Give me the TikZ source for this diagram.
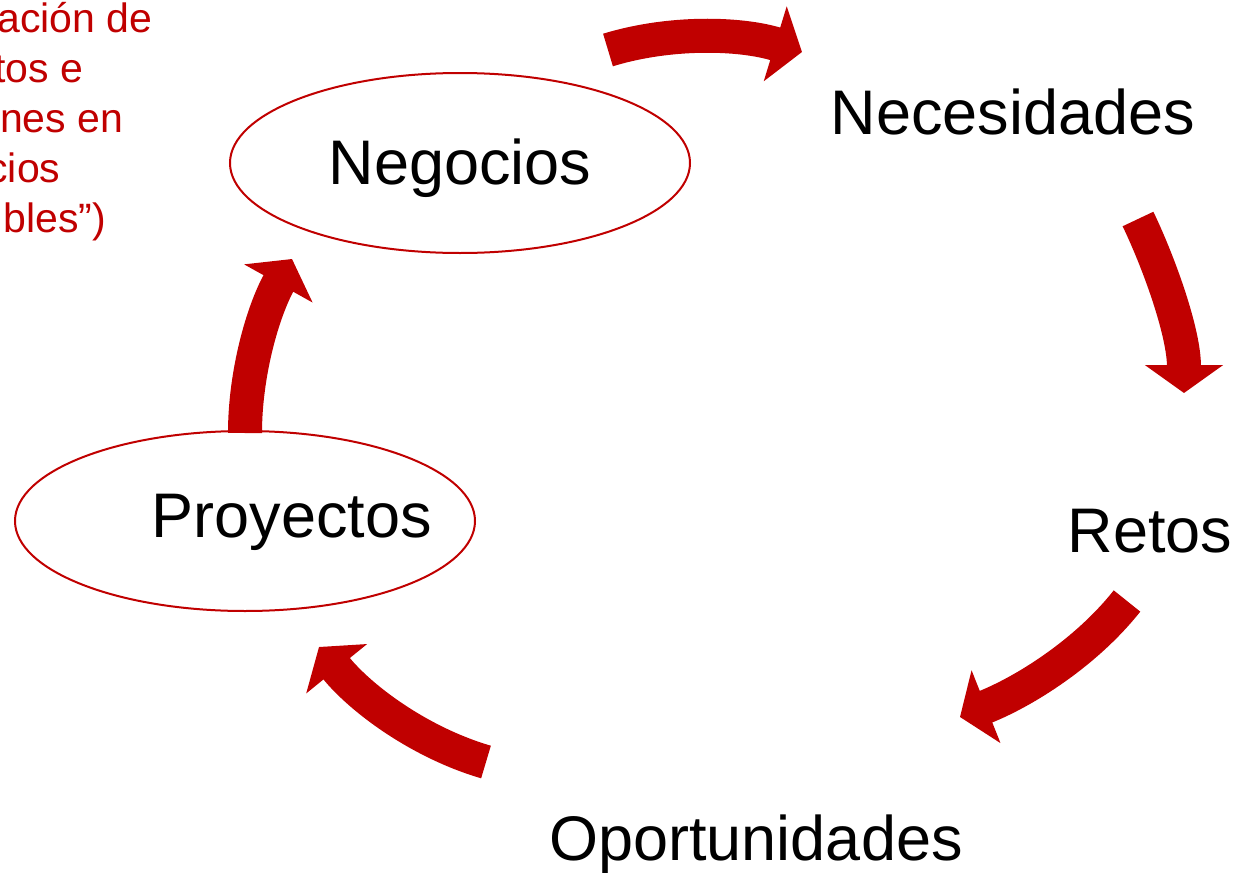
\documentclass[tikz,border=0pt]{standalone}
\usepackage{fontspec}
\setmainfont{Liberation Sans}
\usetikzlibrary{arrows.meta,shapes.geometric}
\definecolor{rojo}{HTML}{C00000}

\begin{document}
\begin{tikzpicture}[
    x=0.5pt, y=-0.5pt,
    lbl/.style={font=\fontsize{31.5}{38}\selectfont, inner sep=0pt, anchor=base},
    ring/.style={draw=rojo, line width=1pt, ellipse, minimum width=230pt,
                 minimum height=90pt, inner sep=0pt},
    nota/.style={text=rojo, font=\fontsize{20.5}{25}\selectfont, inner sep=0pt,
                 anchor=base west},
    flecha/.style={draw=rojo, line width=17pt,
                   -{Triangle[length=14pt,width=38.5pt]}}
  ]
  \useasboundingbox (0,0) rectangle (1250,873);

  % red note, cut by the left border
  \foreach \dx/\yy/\txt [count=\i] in {-3/32/{ación de}, -6/82/{tos e},
      -23/132/{ones en}, -13/182/{cios}, 3/232/{bles”)}}
    \node[nota, name=nota\i] at (\dx,\yy) {\txt};

  \node[ring] (negring) at (460,163) {};
  \node[ring] (proring) at (245,521) {};

  \node[lbl] (neg) at (460,184) {Negocios};
  \node[lbl] (pro) at (292,537) {Proyectos};
  \node[lbl] (nec) at (1013,134) {Necesidades};
  \node[lbl] (ret) at (1150,552) {Retos};
  \node[lbl] (opo) at (756,860) {Oportunidades};

  % cycle arrows
  \coordinate (t1) at (608,50);   \coordinate (h1) at (802,52);
  \coordinate (t2) at (1138,219); \coordinate (h2) at (1184,393);
  \coordinate (t3) at (1127,601); \coordinate (h3) at (960,717);
  \coordinate (t4) at (486,762);  \coordinate (h4) at (319,647);
  \coordinate (t5) at (245,433);  \coordinate (h5) at (292,259);

  \draw[flecha] (t1) .. controls (670,31) and (740,33) .. (h1);
  \draw[flecha] (t2) .. controls (1160,265) and (1184,333) .. (h2);
  \draw[flecha] (t3) .. controls (1085,654) and (1023,692) .. (h3);
  \draw[flecha] (t4) .. controls (421,743) and (362,700) .. (h4);
  \draw[flecha] (t5) .. controls (245,373) and (263,311) .. (h5);
\end{tikzpicture}
\end{document}
